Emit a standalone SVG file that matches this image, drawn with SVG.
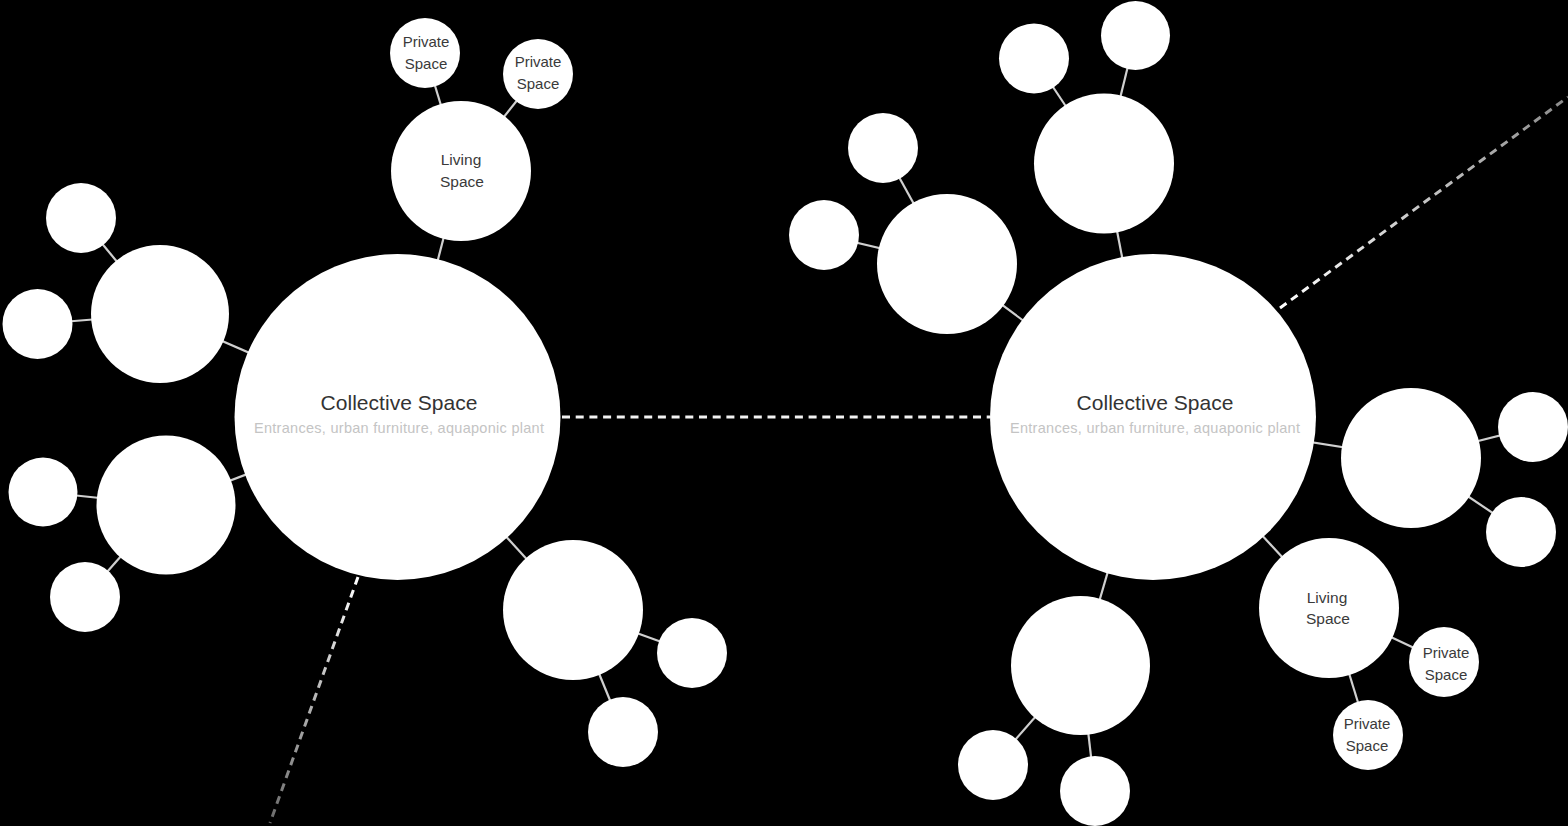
<svg xmlns="http://www.w3.org/2000/svg" width="1568" height="826" viewBox="0 0 1568 826">
<defs>
<style>
.n{fill:#fff}
.c{stroke:#d0d0d0;stroke-width:2.2;fill:none}
.d{stroke-width:3;stroke-dasharray:8 5.7;fill:none}
.t{font-family:"Liberation Sans",Arial,sans-serif;fill:#3a3a3a;text-anchor:middle}
.title{font-size:21px;fill:#333}
.sub{font-size:14.5px;fill:#c4c4c4}
.lab{font-size:15.5px}
.lab2{font-size:15px}
</style>
<linearGradient id="gL" gradientUnits="userSpaceOnUse" x1="358" y1="577" x2="270" y2="823">
<stop offset="0" stop-color="#ffffff"/><stop offset="1" stop-color="#6a6a6a"/>
</linearGradient>
<linearGradient id="gR" gradientUnits="userSpaceOnUse" x1="1280" y1="308" x2="1568" y2="97">
<stop offset="0" stop-color="#ffffff"/><stop offset="1" stop-color="#8a8a8a"/>
</linearGradient>
</defs>
<rect width="1568" height="826" fill="#000"/>
<g id="connectors">
<line class="d" x1="562" y1="417" x2="990" y2="417" stroke="#f2f2f2"/>
<line class="d" x1="358" y1="577" x2="270" y2="823" stroke="url(#gL)"/>
<line class="d" x1="1280" y1="308" x2="1568" y2="97" stroke="url(#gR)"/>
<line class="c" x1="397" y1="417" x2="461" y2="171"/>
<line class="c" x1="461" y1="171" x2="425" y2="53"/>
<line class="c" x1="461" y1="171" x2="538" y2="74"/>
<line class="c" x1="397" y1="417" x2="160" y2="314"/>
<line class="c" x1="160" y1="314" x2="81" y2="218"/>
<line class="c" x1="160" y1="314" x2="37.5" y2="324"/>
<line class="c" x1="397" y1="417" x2="166" y2="505"/>
<line class="c" x1="166" y1="505" x2="43" y2="492"/>
<line class="c" x1="166" y1="505" x2="85" y2="597"/>
<line class="c" x1="397" y1="417" x2="573" y2="610"/>
<line class="c" x1="573" y1="610" x2="692" y2="653"/>
<line class="c" x1="573" y1="610" x2="623" y2="732"/>
<line class="c" x1="1153" y1="417" x2="1104" y2="163.5"/>
<line class="c" x1="1104" y1="163.5" x2="1034" y2="58.5"/>
<line class="c" x1="1104" y1="163.5" x2="1135.5" y2="35.5"/>
<line class="c" x1="1153" y1="417" x2="947" y2="264"/>
<line class="c" x1="947" y1="264" x2="883" y2="148"/>
<line class="c" x1="947" y1="264" x2="824" y2="235"/>
<line class="c" x1="1153" y1="417" x2="1411" y2="458"/>
<line class="c" x1="1411" y1="458" x2="1533" y2="427"/>
<line class="c" x1="1411" y1="458" x2="1521" y2="532"/>
<line class="c" x1="1153" y1="417" x2="1329" y2="608"/>
<line class="c" x1="1329" y1="608" x2="1444" y2="662"/>
<line class="c" x1="1329" y1="608" x2="1368" y2="735"/>
<line class="c" x1="1153" y1="417" x2="1080.5" y2="665.5"/>
<line class="c" x1="1080.5" y1="665.5" x2="993" y2="765"/>
<line class="c" x1="1080.5" y1="665.5" x2="1095" y2="791"/>
</g>
<g id="left-collective">
<circle class="n" cx="397.5" cy="417" r="163"/>
<text class="t title" x="399" y="410" textLength="157" lengthAdjust="spacing">Collective Space</text>
<text class="t sub" x="399" y="433" textLength="290" lengthAdjust="spacing">Entrances, urban furniture, aquaponic plant</text>
</g>
<g id="left-living">
<circle class="n" cx="461" cy="171" r="70"/>
<text class="t lab" x="461" y="165">Living</text>
<text class="t lab" x="462" y="187">Space</text>
</g>
<g id="left-private-1">
<circle class="n" cx="425" cy="53" r="35"/>
<text class="t lab2" x="426" y="47">Private</text>
<text class="t lab2" x="426" y="69">Space</text>
</g>
<g id="left-private-2">
<circle class="n" cx="538" cy="74" r="35"/>
<text class="t lab2" x="538" y="67">Private</text>
<text class="t lab2" x="538" y="89">Space</text>
</g>
<g id="left-unit-a"><circle class="n" cx="160" cy="314" r="69"/></g>
<g id="left-unit-a1"><circle class="n" cx="81" cy="218" r="35"/></g>
<g id="left-unit-a2"><circle class="n" cx="37.5" cy="324" r="35"/></g>
<g id="left-unit-b"><circle class="n" cx="166" cy="505" r="69.5"/></g>
<g id="left-unit-b1"><circle class="n" cx="43" cy="492" r="34.5"/></g>
<g id="left-unit-b2"><circle class="n" cx="85" cy="597" r="35"/></g>
<g id="left-unit-c"><circle class="n" cx="573" cy="610" r="70"/></g>
<g id="left-unit-c1"><circle class="n" cx="692" cy="653" r="35"/></g>
<g id="left-unit-c2"><circle class="n" cx="623" cy="732" r="35"/></g>
<g id="right-collective">
<circle class="n" cx="1153" cy="417" r="163"/>
<text class="t title" x="1155" y="410" textLength="157" lengthAdjust="spacing">Collective Space</text>
<text class="t sub" x="1155" y="433" textLength="290" lengthAdjust="spacing">Entrances, urban furniture, aquaponic plant</text>
</g>
<g id="right-unit-a"><circle class="n" cx="1104" cy="163.5" r="70"/></g>
<g id="right-unit-a1"><circle class="n" cx="1034" cy="58.5" r="35"/></g>
<g id="right-unit-a2"><circle class="n" cx="1135.5" cy="35.5" r="34.5"/></g>
<g id="right-unit-b"><circle class="n" cx="947" cy="264" r="70"/></g>
<g id="right-unit-b1"><circle class="n" cx="883" cy="148" r="35"/></g>
<g id="right-unit-b2"><circle class="n" cx="824" cy="235" r="35"/></g>
<g id="right-unit-c"><circle class="n" cx="1411" cy="458" r="70"/></g>
<g id="right-unit-c1"><circle class="n" cx="1533" cy="427" r="35"/></g>
<g id="right-unit-c2"><circle class="n" cx="1521" cy="532" r="35"/></g>
<g id="right-living">
<circle class="n" cx="1329" cy="608" r="70"/>
<text class="t lab" x="1327" y="603">Living</text>
<text class="t lab" x="1328" y="624">Space</text>
</g>
<g id="right-private-1">
<circle class="n" cx="1444" cy="662" r="35"/>
<text class="t lab2" x="1446" y="658">Private</text>
<text class="t lab2" x="1446" y="680">Space</text>
</g>
<g id="right-private-2">
<circle class="n" cx="1368" cy="735" r="35"/>
<text class="t lab2" x="1367" y="729">Private</text>
<text class="t lab2" x="1367" y="751">Space</text>
</g>
<g id="right-unit-d"><circle class="n" cx="1080.5" cy="665.5" r="69.5"/></g>
<g id="right-unit-d1"><circle class="n" cx="993" cy="765" r="35"/></g>
<g id="right-unit-d2"><circle class="n" cx="1095" cy="791" r="35"/></g>
</svg>
